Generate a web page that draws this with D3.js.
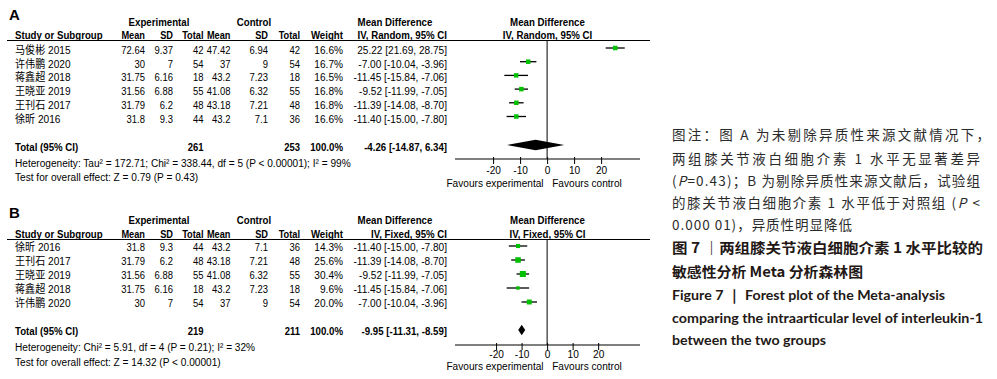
<!DOCTYPE html>
<html>
<head>
<meta charset="utf-8">
<script src="https://cdn.jsdelivr.net/npm/d3@7"></script>
<style>
  html, body { margin: 0; padding: 0; background: #fff; }
  svg { display: block; }
  .tb { font-family: "Liberation Sans Narrow", "Arial Narrow", "Liberation Sans", "Noto Sans CJK SC", sans-serif; font-size: 11px; fill: #000; }
  .bold { font-weight: bold; }
</style>
</head>
<body>
<div id="chart"></div>
<script>
// study level data (same numbers appear in both panels)
var studies = ["马俊彬 2015", "许伟鹏 2020", "蒋鑫超 2018", "王晓亚 2019", "王刊石 2017", "徐昕 2016"];
var expMean = [72.64, 30, 31.75, 31.56, 31.79, 31.8];
var expSD = [9.37, 7, 6.16, 6.88, 6.2, 9.3];
var expN = [42, 54, 18, 55, 48, 44];
var ctlMean = [47.42, 37, 43.2, 41.08, 43.18, 43.2];
var ctlSD = [6.94, 9, 7.23, 6.32, 7.21, 7.1];
var ctlN = [42, 54, 18, 55, 48, 36];
var md = [25.22, -7.00, -11.45, -9.52, -11.39, -11.40];
var ciLow = [21.69, -10.04, -15.84, -11.99, -14.08, -15.00];
var ciHigh = [28.75, -3.96, -7.06, -7.05, -8.70, -7.80];

// panel A: all studies, random effects
var orderA = [0, 1, 2, 3, 4, 5];
var weightA = [16.6, 16.7, 16.5, 16.8, 16.8, 16.6];
var totalA = { exp: 261, ctl: 253, md: -4.26, lo: -14.87, hi: 6.34 };
var hetA = "Heterogeneity: Tau\u00b2 = 172.71; Chi\u00b2 = 338.44, df = 5 (P < 0.00001); I\u00b2 = 99%";
var testA = "Test for overall effect: Z = 0.79 (P = 0.43)";

// panel B: source of heterogeneity removed, fixed effects
var orderB = [5, 4, 3, 2, 1];
var weightB = [14.3, 25.6, 30.4, 9.6, 20.0];
var totalB = { exp: 219, ctl: 211, md: -9.95, lo: -11.31, hi: -8.59 };
var hetB = "Heterogeneity: Chi\u00b2 = 5.91, df = 4 (P = 0.21); I\u00b2 = 32%";
var testB = "Test for overall effect: Z = 14.32 (P < 0.00001)";

var tickVals = [-20, -10, 0, 10, 20];

var noteLines = [
  "图注：图 A 为未剔除异质性来源文献情况下，",
  "两组膝关节液白细胞介素 1 水平无显著差异",
  ["(", "P", "=0.43)；B 为剔除异质性来源文献后，试验组"],
  ["的膝关节液白细胞介素 1 水平低于对照组 (", "P", " <"],
  "0.000 01)，异质性明显降低"
];
var titleCn = ["图 7 ｜两组膝关节液白细胞介素 1 水平比较的", "敏感性分析 Meta 分析森林图"];
var titleEn = ["Figure 7 ｜ Forest plot of the Meta-analysis",
  "comparing the intraarticular level of interleukin-1",
  "between the two groups"];

var width = 997, height = 379;
var svg = d3.select("#chart").append("svg")
    .attr("width", width)
    .attr("height", height);
svg.append("rect").attr("width", width).attr("height", height).attr("fill", "#fff");

// plain hyphen minus like RevMan prints
var loc = d3.formatLocale({ decimal: ".", thousands: ",", grouping: [3], currency: ["", ""], minus: "-" });
var f2 = loc.format(".2f"), f1 = loc.format(".1f");
function ciText(m, lo, hi) {
  return f2(m) + " [" + f2(lo) + ", " + f2(hi) + "]";
}

// table text is a condensed face; squeeze the regular one horizontally
function txt(g, x, y, s, anchor, bold, sx) {
  sx = sx || (bold ? 0.88 : 0.92);
  return g.append("text")
      .attr("class", "tb" + (bold ? " bold" : ""))
      .attr("transform", "translate(" + x + "," + y + ") scale(" + sx + ",1)")
      .attr("text-anchor", anchor || "start")
      .text(s);
}
function num(g, x, y, s, bold) {
  return txt(g, x, y, s, "end", bold, 0.86);
}

function drawPanel(opt) {
  var g = svg.append("g");
  var L = opt.lay;

  g.append("text").attr("x", 9).attr("y", L.letter)
      .attr("font-family", "Liberation Sans, Arial, sans-serif")
      .attr("font-weight", "bold").attr("font-size", 15)
      .text(opt.letter);

  // headers
  txt(g, 159, L.h1, "Experimental", "middle", true);
  txt(g, 254, L.h1, "Control", "middle", true);
  txt(g, 395, L.h1, "Mean Difference", "middle", true);
  txt(g, 547.5, L.h1, "Mean Difference", "middle", true);
  txt(g, 15, L.h2, "Study or Subgroup", "start", true);
  txt(g, 145, L.h2, "Mean", "end", true, 0.84);
  txt(g, 173, L.h2, "SD", "end", true, 0.84);
  txt(g, 203.5, L.h2, "Total", "end", true, 0.84);
  txt(g, 230.5, L.h2, "Mean", "end", true, 0.84);
  txt(g, 268, L.h2, "SD", "end", true, 0.84);
  txt(g, 300, L.h2, "Total", "end", true, 0.84);
  txt(g, 343, L.h2, "Weight", "end", true);
  txt(g, 447, L.h2, opt.method, "end", true);
  txt(g, 547.5, L.h2, opt.method, "middle", true);

  g.append("line").attr("x1", 7).attr("x2", 650)
      .attr("y1", L.line).attr("y2", L.line)
      .attr("stroke", "#000").attr("stroke-width", 1.2);

  var x = d3.scaleLinear().domain(opt.domain).range([455, 640]);
  var y = function(i) { return L.row0 + i * L.step; };

  opt.order.forEach(function(k, i) {
    var yy = y(i) + 4;
    txt(g, 15, yy, studies[k]);
    num(g, 145, yy, String(expMean[k]));
    num(g, 173, yy, String(expSD[k]));
    num(g, 203.5, yy, String(expN[k]));
    num(g, 230.5, yy, String(ctlMean[k]));
    num(g, 268, yy, String(ctlSD[k]));
    num(g, 300, yy, String(ctlN[k]));
    txt(g, 343, yy, f1(opt.weight[i]) + "%", "end");
    txt(g, 447, yy, ciText(md[k], ciLow[k], ciHigh[k]), "end");
  });

  // zero line
  g.append("line").attr("x1", x(0)).attr("x2", x(0))
      .attr("y1", L.line).attr("y2", L.axis)
      .attr("stroke", "#000").attr("stroke-width", 1);

  // CI lines and squares
  var marks = g.append("g").selectAll("g")
      .data(opt.order.map(function(k, i) { return { k: k, i: i, w: opt.weight[i] }; }))
      .enter().append("g");
  marks.append("line")
      .attr("x1", function(d) { return x(ciLow[d.k]); })
      .attr("x2", function(d) { return x(ciHigh[d.k]); })
      .attr("y1", function(d) { return y(d.i) + L.sq; })
      .attr("y2", function(d) { return y(d.i) + L.sq; })
      .attr("stroke", "#000").attr("stroke-width", 1.3);
  marks.append("rect")
      .attr("x", function(d) { return x(md[d.k]) - 0.55 * Math.sqrt(d.w); })
      .attr("y", function(d) { return y(d.i) + L.sq - 0.55 * Math.sqrt(d.w); })
      .attr("width", function(d) { return 1.1 * Math.sqrt(d.w); })
      .attr("height", function(d) { return 1.1 * Math.sqrt(d.w); })
      .attr("fill", "#00c000");

  // total row
  var t = opt.total;
  txt(g, 15, L.total + 4, "Total (95% CI)", "start", true);
  num(g, 203.5, L.total + 4, String(t.exp), true);
  num(g, 300, L.total + 4, String(t.ctl), true);
  txt(g, 343, L.total + 4, "100.0%", "end", true);
  txt(g, 447, L.total + 4, ciText(t.md, t.lo, t.hi), "end", true);
  var dy = L.dia, dh = 5.2;
  g.append("path")
      .attr("d", "M" + x(t.lo) + "," + dy + "L" + x(t.md) + "," + (dy - dh) +
                 "L" + x(t.hi) + "," + dy + "L" + x(t.md) + "," + (dy + dh) + "Z")
      .attr("fill", "#000");

  txt(g, 15, L.het + 4, opt.het);
  txt(g, 15, L.test + 4, opt.test);

  // axis
  g.append("line").attr("x1", 455).attr("x2", 640)
      .attr("y1", L.axis).attr("y2", L.axis)
      .attr("stroke", "#000").attr("stroke-width", 1.2);
  var ax = g.append("g").attr("transform", "translate(0," + L.axis + ")")
      .call(d3.axisBottom(x).tickValues(tickVals).tickSize(5).tickSizeOuter(0));
  ax.select(".domain").remove();
  ax.selectAll(".tick line").attr("y1", -2).attr("stroke", "#000");
  ax.selectAll(".tick text").attr("class", "tb").attr("y", 0).attr("dy", null)
      .attr("transform", "translate(0," + (L.tickLab - L.axis + 4) + ") scale(0.92,1)")
      .text(function(d) { return String(d); });
  txt(g, 495, L.fav + 4, "Favours experimental", "middle");
  txt(g, 587, L.fav + 4, "Favours control", "middle");
}

drawPanel({
  letter: "A", method: "IV, Random, 95% CI", order: orderA, weight: weightA,
  total: totalA, het: hetA, test: testA, domain: [-34.1, 34.4],
  lay: { letter: 20, h1: 25.5, h2: 38.5, line: 40.5, row0: 50, step: 13.7, sq: -2,
         total: 147, dia: 145, het: 162.5, test: 177, axis: 159, tickLab: 170, fav: 183 }
});
drawPanel({
  letter: "B", method: "IV, Fixed, 95% CI", order: orderB, weight: weightB,
  total: totalB, het: hetB, test: testB, domain: [-36.1, 36.4],
  lay: { letter: 218, h1: 224, h2: 237.5, line: 239.5, row0: 247, step: 14, sq: -1,
         total: 331, dia: 330, het: 346.5, test: 362, axis: 345, tickLab: 354.3, fav: 365.7 }
});

// caption on the right
var cap = svg.append("g");
var noteY = [140, 164, 186, 208, 230];
var noteW = [318, 308, 308, 308, 180];
noteLines.forEach(function(s, i) {
  var t = cap.append("text").attr("x", 672).attr("y", noteY[i])
      .attr("font-family", "Noto Sans CJK SC, sans-serif")
      .attr("font-size", 13.5).attr("fill", "#2b2b2b")
      .attr("textLength", noteW[i]).attr("lengthAdjust", "spacing");
  if (typeof s === "string") {
    t.text(s);
  } else {
    s.forEach(function(part, j) {
      t.append("tspan").attr("font-style", j === 1 ? "italic" : null).text(part);
    });
  }
});
var titleY = [253, 276.5], titleW = [311, 191];
titleCn.forEach(function(s, i) {
  cap.append("text").attr("x", 672).attr("y", titleY[i])
      .attr("font-family", "Noto Sans CJK SC, sans-serif")
      .attr("font-size", 14).attr("font-weight", "bold").attr("fill", "#231815")
      .attr("textLength", titleW[i]).attr("lengthAdjust", "spacingAndGlyphs")
      .text(s);
});
var enY = [299.5, 322.5, 344.5], enW = [273, 311, 154];
titleEn.forEach(function(s, i) {
  cap.append("text").attr("x", 672).attr("y", enY[i])
      .attr("font-family", "Lato, Open Sans, sans-serif")
      .attr("font-size", 13.5).attr("font-weight", "bold").attr("fill", "#231815")
      .attr("textLength", enW[i]).attr("lengthAdjust", "spacingAndGlyphs")
      .text(s);
});
</script>
</body>
</html>
